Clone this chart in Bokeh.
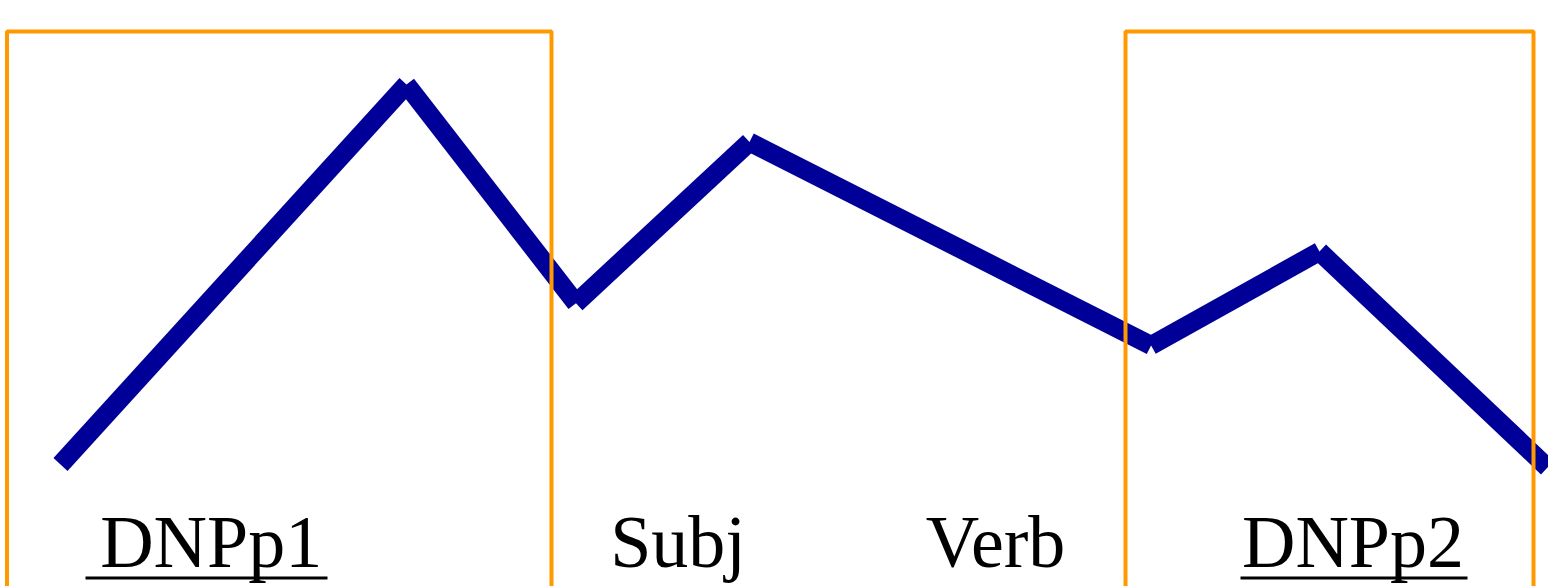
from bokeh.plotting import figure
from bokeh.models import Range1d, ColumnDataSource
from bokeh.core.properties import value
from bokeh.embed import file_html
from bokeh.resources import INLINE

# contour points (x = horizontal position, y = height)
contour_x = [60, 406, 575.5, 749, 1150.6, 1319, 1547]
contour_y = [122, 502, 283.3, 444.5, 241, 335, 119]

# highlighted regions (boxes)
box_left = [6.5, 1125]
box_right = [551, 1533]
box_top = [555, 555]
box_bottom = [-30, -30]

# word labels
labels = ["DNPp1", "Subj", "Verb", "DNPp2"]
label_x = [210.7, 677.5, 995, 1352.5]
label_underlined = [True, False, False, True]
underline_start = [85, None, None, 1240]
underline_end = [327, None, None, 1467]

W, H = 1548, 586
p = figure(width=W, height=H, output_backend="svg", toolbar_location=None,
           x_range=Range1d(0, W), y_range=Range1d(0, H), min_border=0)
p.xaxis.visible = False
p.yaxis.visible = False
p.grid.visible = False
p.outline_line_color = None
p.background_fill_color = "white"
p.border_fill_color = "white"

seg = ColumnDataSource(dict(x0=contour_x[:-1], y0=contour_y[:-1],
                            x1=contour_x[1:], y1=contour_y[1:]))
p.segment(x0="x0", y0="y0", x1="x1", y1="y1", source=seg,
          line_color="#000099", line_width=19, line_cap="butt")

p.quad(left=box_left, right=box_right, top=box_top, bottom=box_bottom,
       fill_color=None, line_color="#FF9900", line_width=4)

baseline_y = 45
p.text(x=label_x, y=[baseline_y] * len(labels), text=labels,
       text_font=value("Liberation Serif"), text_font_size="74px",
       text_align="center", text_baseline="alphabetic", text_color="black")

ux0 = [s for s, u in zip(underline_start, label_underlined) if u]
ux1 = [e for e, u in zip(underline_end, label_underlined) if u]
p.segment(x0=ux0, x1=ux1, y0=[8.5] * len(ux0), y1=[8.5] * len(ux0),
          line_color="black", line_width=3, line_cap="butt")

open("out.html", "w").write(file_html(p, INLINE))
